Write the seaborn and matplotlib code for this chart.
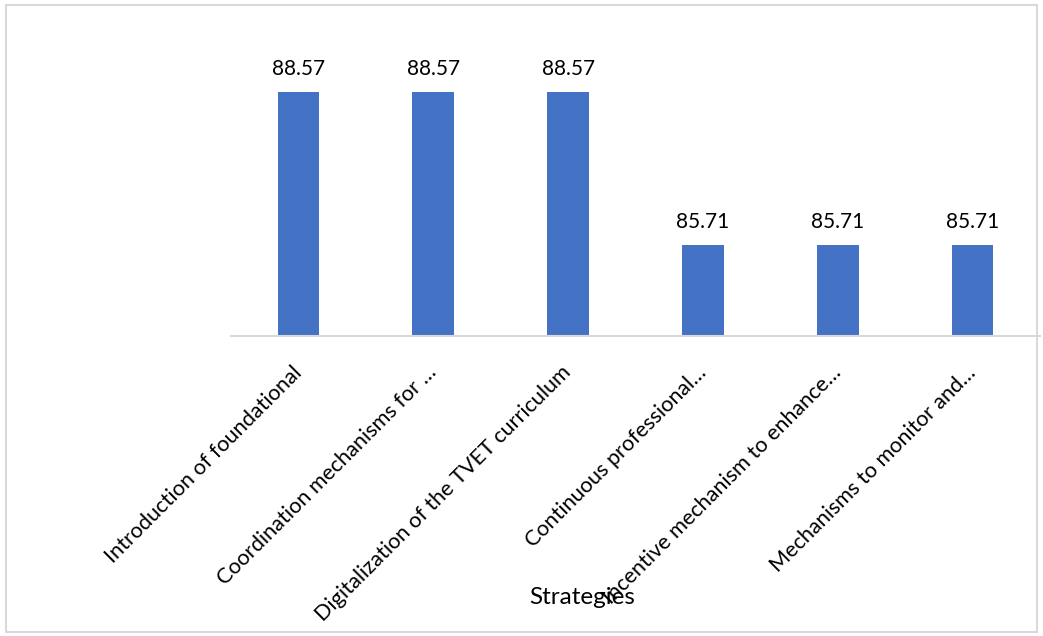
import matplotlib
matplotlib.use("Agg")
import matplotlib.pyplot as plt
import seaborn as sns
import pandas as pd
from matplotlib.patches import Rectangle

categories = [
    "Introduction of foundational",
    "Coordination mechanisms for …",
    "Digitalization of the TVET curriculum",
    "Continuous professional…",
    "Incentive mechanism to enhance…",
    "Mechanisms to monitor and…",
]
values = [88.57, 88.57, 88.57, 85.71, 85.71, 85.71]
value_labels = ["88.57", "88.57", "88.57", "85.71", "85.71", "85.71"]
x_title = "Strategies"

sns.set_theme(style="white")
plt.rcParams['font.family'] = ['Lato', 'DejaVu Sans']

df = pd.DataFrame({"cat": categories, "val": values})

W, H = 1043, 636
fig = plt.figure(figsize=(W / 100, H / 100), dpi=100)
ax = fig.add_axes([231 / W, 1 - 336 / H, (1040 - 231) / W, (336 - 15) / H])

sns.barplot(data=df, x="cat", y="val", color="#4472C4", width=0.31, ax=ax,
            saturation=1, linewidth=0)
ax.set_ylim(84, 90)
ax.bar_label(ax.containers[0], labels=value_labels, padding=9, fontsize=15, color="#000000")

ax.set_yticks([])
ax.set_ylabel("")
ax.set_xlabel("")
for s in ["left", "right", "top"]:
    ax.spines[s].set_visible(False)
ax.spines["bottom"].set_color("#D9D9D9")
ax.spines["bottom"].set_linewidth(1.5)
ax.tick_params(axis="x", length=0, pad=24)
for lbl in ax.get_xticklabels():
    lbl.set_rotation(45)
    lbl.set_ha("right")
    lbl.set_va("center")
    lbl.set_rotation_mode("anchor")
    lbl.set_fontsize(15.6)
    lbl.set_color("#000000")

fig.text(582 / W, 1 - 597 / H, x_title, ha="center", va="center", fontsize=17.5, color="#000000")

fig.patches.append(Rectangle((6 / W, 1 - 632 / H), (1037 - 6) / W, (632 - 5) / H,
                             transform=fig.transFigure, fill=False,
                             edgecolor="#D9D9D9", linewidth=1.5))

fig.savefig("out.png", dpi=100, facecolor="white")
